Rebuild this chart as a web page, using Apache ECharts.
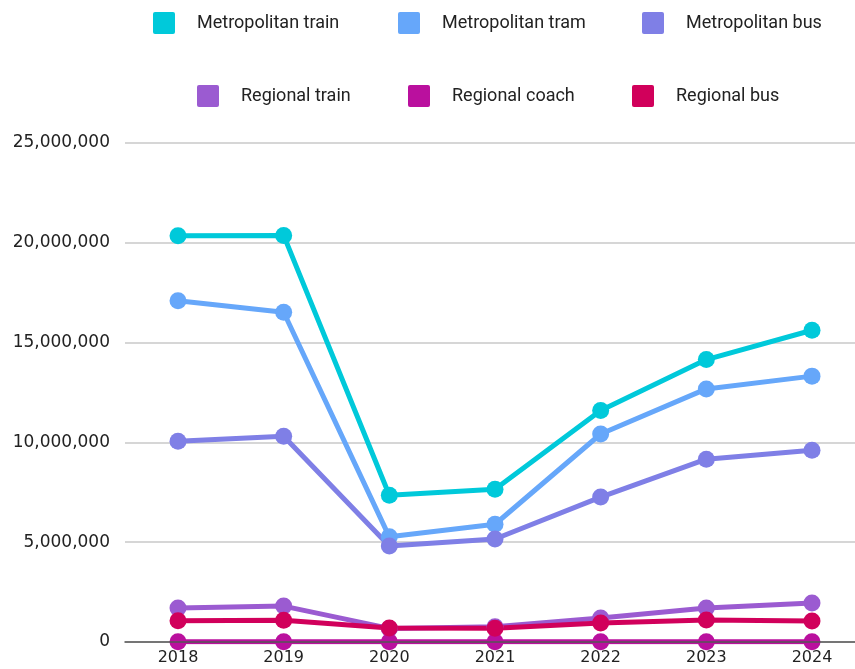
<!DOCTYPE html>
<html>
<head>
<meta charset="utf-8">
<style>
  html, body { margin: 0; padding: 0; background: #fff; }
  #chart { width: 855px; height: 669px; }
</style>
<script src="https://cdn.jsdelivr.net/npm/echarts@6/dist/echarts.min.js"></script>
</head>
<body>
<div id="chart"></div>
<script>
// years on the x axis
const years = ['2018', '2019', '2020', '2021', '2022', '2023', '2024'];

// patronage per mode
const metroTrain = [20350000, 20370000, 7350000, 7650000, 11600000, 14150000, 15620000];
const metroTram = [17100000, 16520000, 5270000, 5900000, 10420000, 12680000, 13320000];
const metroBus = [10060000, 10310000, 4810000, 5160000, 7260000, 9160000, 9610000];
const regionalTrain = [1700000, 1800000, 680000, 760000, 1200000, 1700000, 1950000];
const regionalCoach = [15000, 15000, 8000, 9000, 12000, 14000, 15000];
const regionalBus = [1060000, 1090000, 700000, 690000, 950000, 1100000, 1050000];

const seriesNames = ['Metropolitan train', 'Metropolitan tram', 'Metropolitan bus',
                     'Regional train', 'Regional coach', 'Regional bus'];
const seriesData = [metroTrain, metroTram, metroBus, regionalTrain, regionalCoach, regionalBus];
const colors = ['#00C9DA', '#66A7FA', '#7F7FE6', '#9B5BD1', '#BA109E', '#D1005B'];

// legend slots: [left, top] for each item
const legendPos = [[153, 12], [398, 12], [642, 12], [197, 85], [408, 85], [632, 85]];

const fmt = v => Number(v).toLocaleString('en-US');
const axisFont = '"DejaVu Sans", sans-serif';

const chart = echarts.init(document.getElementById('chart'));

const option = {
    animation: false,
    color: colors,
    legend: seriesNames.map((name, i) => ({
        data: [name],
        left: legendPos[i][0],
        top: legendPos[i][1],
        padding: 0,
        icon: 'path://M2,0 L20,0 Q22,0 22,2 L22,20 Q22,22 20,22 L2,22 Q0,22 0,20 L0,2 Q0,0 2,0 Z',
        itemWidth: 22,
        itemHeight: 22,
        itemGap: 0,
        textStyle: { fontSize: 18, color: '#222', padding: [0, 0, 0, 17], fontFamily: 'Roboto, sans-serif' },
        selectedMode: false
    })),
    // grid 0: background gridlines + y labels, full width
    // grid 1: the data, points sit at band centres of the full width
    grid: [
        { left: 125, top: 143, right: 0, height: 499, containLabel: false },
        { left: 178, top: 143, width: 634, height: 499, containLabel: false }
    ],
    xAxis: [
        {
            gridIndex: 0,
            type: 'value',
            min: 0,
            max: 1,
            z: 5,
            axisLine: { show: true, onZero: false, lineStyle: { color: '#555', width: 1.5 } },
            axisTick: { show: false },
            axisLabel: { show: false },
            splitLine: { show: false }
        },
        {
            gridIndex: 1,
            type: 'category',
            data: years,
            boundaryGap: false,
            axisLine: { show: false },
            axisTick: { show: false },
            axisLabel: { fontSize: 16, color: '#222', margin: 8, fontFamily: axisFont }
        }
    ],
    yAxis: [
        {
            gridIndex: 0,
            type: 'value',
            min: 0,
            max: 25000000,
            interval: 5000000,
            axisLine: { show: false },
            axisTick: { show: false },
            axisLabel: { fontSize: 17, color: '#222', margin: 15, formatter: fmt, fontFamily: axisFont },
            splitLine: { lineStyle: { color: '#c8c8c8', width: 1.5 } }
        },
        {
            gridIndex: 1,
            type: 'value',
            min: 0,
            max: 25000000,
            interval: 5000000,
            axisLine: { show: false },
            axisTick: { show: false },
            axisLabel: { show: false },
            splitLine: { show: false }
        }
    ],
    series: seriesNames.map((name, i) => ({
        name: name,
        type: 'line',
        xAxisIndex: 1,
        yAxisIndex: 1,
        data: seriesData[i],
        symbol: 'circle',
        symbolSize: 17,
        lineStyle: { width: 5 },
        itemStyle: { color: colors[i] }
    }))
};

chart.setOption(option);
</script>
</body>
</html>
